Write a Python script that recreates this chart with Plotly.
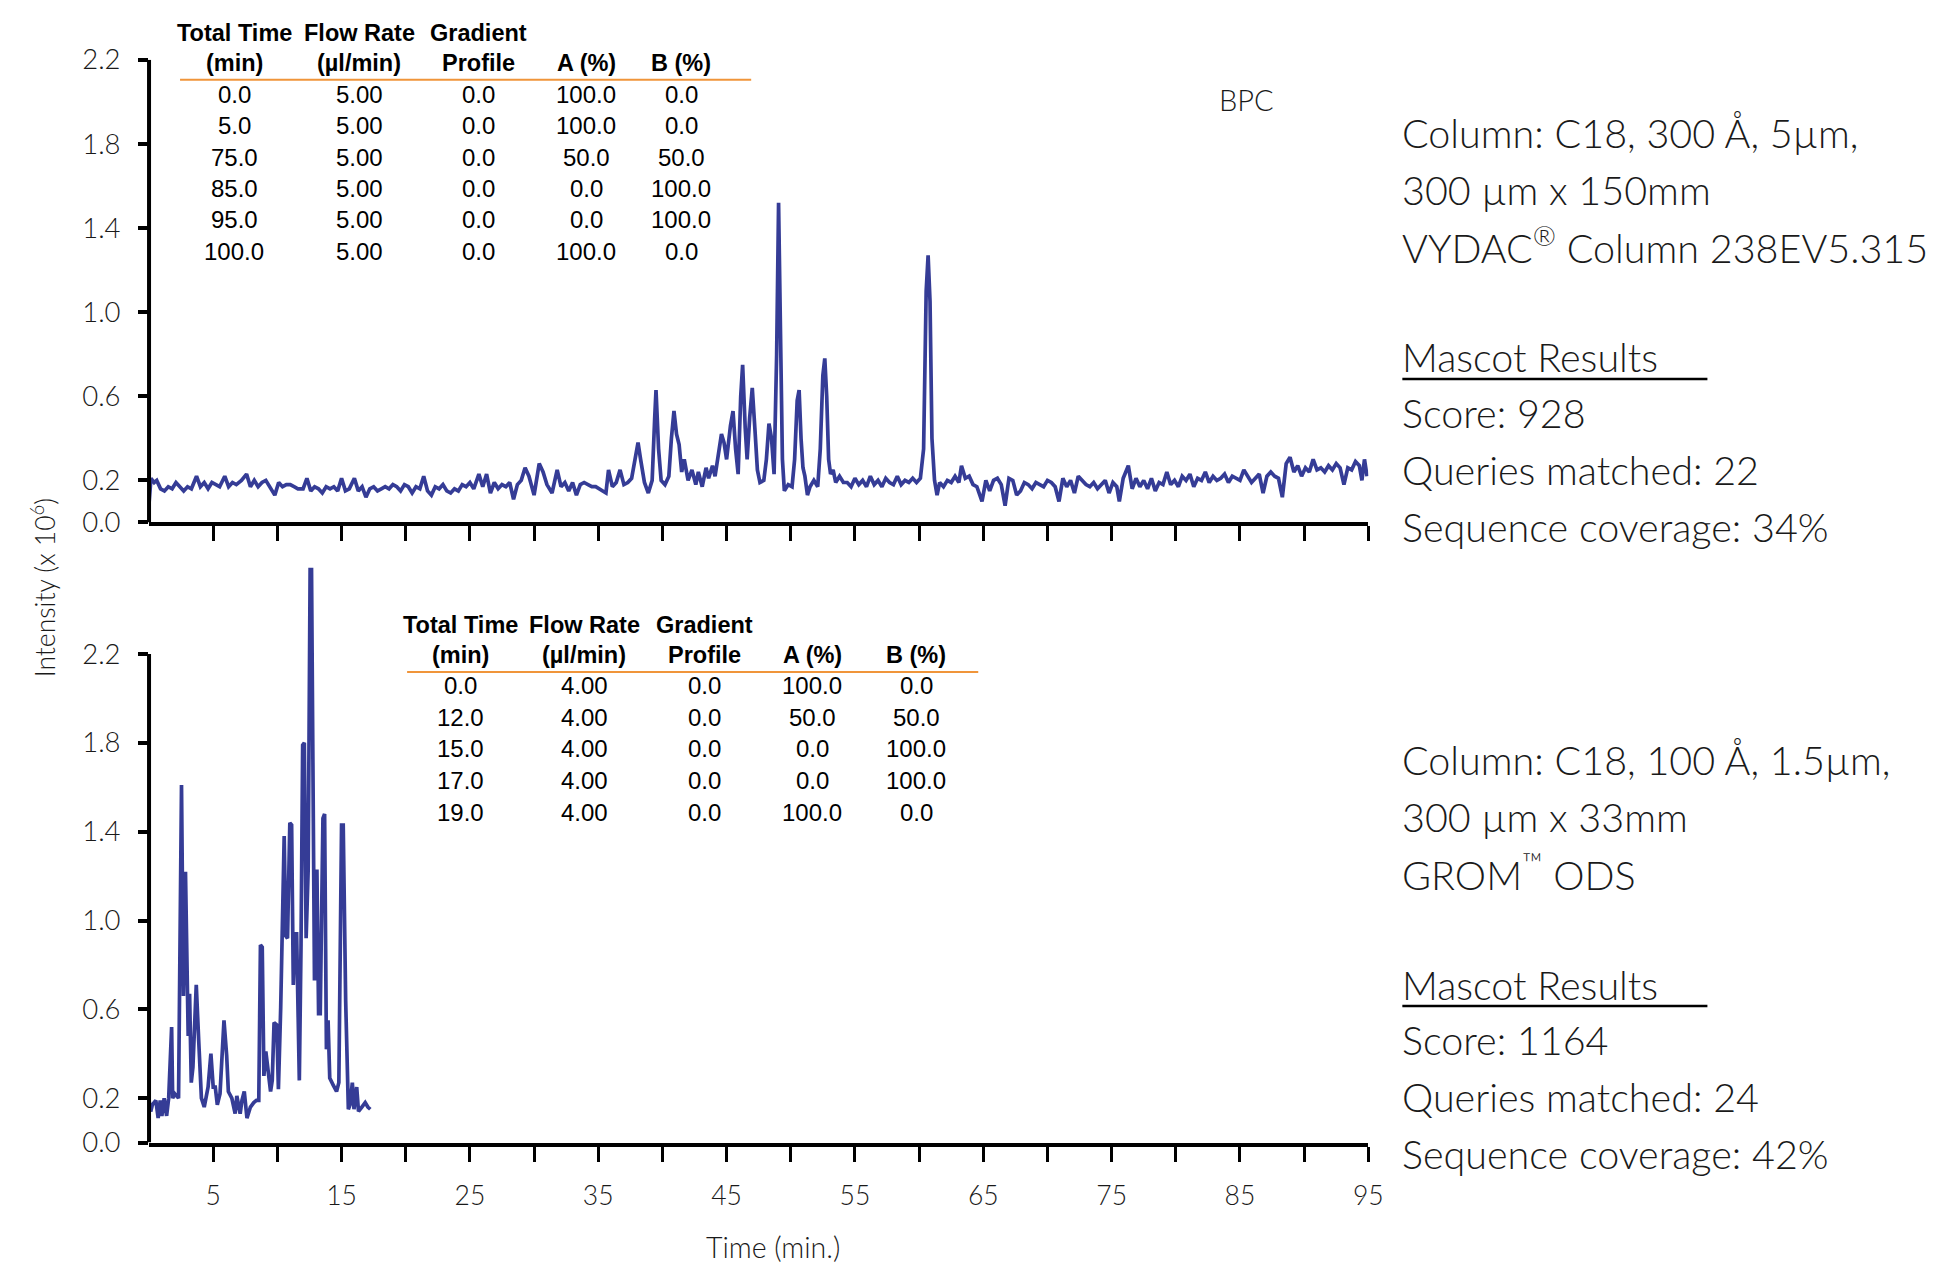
import plotly.graph_objects as go

# ---------------- data ----------------
top_time = [
    0.0, 0.15, 0.4, 0.6, 0.9, 1.2, 1.5, 1.8, 2.1, 2.4,
    2.7, 3.0, 3.3, 3.7, 4.0, 4.3, 4.6, 4.9, 5.2, 5.5,
    5.9, 6.2, 6.5, 6.8, 7.2, 7.6, 7.9, 8.2, 8.5, 8.8,
    9.1, 9.4, 9.8, 10.1, 10.4, 10.7, 11.0, 11.3, 11.6, 12.0,
    12.3, 12.6, 12.9, 13.2, 13.5, 13.8, 14.1, 14.4, 14.7, 15.0,
    15.3, 15.6, 16.0, 16.3, 16.6, 16.9, 17.2, 17.5, 17.8, 18.1,
    18.4, 18.7, 19.0, 19.3, 19.6, 19.9, 20.2, 20.5, 20.8, 21.1,
    21.4, 21.7, 22.0, 22.3, 22.6, 22.9, 23.2, 23.5, 23.8, 24.1,
    24.4, 24.7, 25.0, 25.3, 25.7, 26.0, 26.3, 26.6, 26.9, 27.2,
    27.5, 27.8, 28.1, 28.4, 28.7, 29.0, 29.3, 29.6, 30.0, 30.4,
    30.7, 31.0, 31.4, 31.8, 32.1, 32.4, 32.7, 33.0, 33.3, 33.6,
    33.9, 34.2, 34.5, 34.8, 35.1, 35.4, 35.6, 35.8, 36.1, 36.4,
    36.7, 37.0, 37.3, 37.6, 37.9, 38.1, 38.3, 38.6, 38.9, 39.2,
    39.4, 39.5, 39.7, 39.9, 40.2, 40.5, 40.7, 40.9, 41.1, 41.3,
    41.5, 41.7, 42.0, 42.3, 42.6, 42.8, 43.1, 43.4, 43.6, 43.9,
    44.1, 44.4, 44.6, 44.8, 45.0, 45.3, 45.5, 45.7, 45.9, 46.1,
    46.25, 46.45, 46.6, 46.8, 47.0, 47.2, 47.4, 47.6, 47.9, 48.1,
    48.3, 48.5, 48.7, 48.9, 49.05, 49.2, 49.35, 49.5, 49.8, 50.1,
    50.3, 50.5, 50.65, 50.8, 50.95, 51.1, 51.3, 51.5, 51.8, 52.1,
    52.3, 52.5, 52.65, 52.8, 52.95, 53.1, 53.3, 53.5, 53.8, 54.1,
    54.4, 54.7, 55.0, 55.3, 55.6, 55.9, 56.2, 56.5, 56.8, 57.1,
    57.4, 57.7, 58.0, 58.3, 58.6, 58.9, 59.2, 59.5, 59.8, 60.1,
    60.35, 60.55, 60.7, 60.85, 61.0, 61.2, 61.4, 61.6, 61.9, 62.2,
    62.5, 62.8, 63.1, 63.3, 63.6, 63.9, 64.2, 64.5, 64.9, 65.2,
    65.5, 65.8, 66.1, 66.4, 66.7, 67.0, 67.3, 67.6, 67.9, 68.2,
    68.5, 68.8, 69.1, 69.4, 69.7, 70.0, 70.3, 70.6, 70.9, 71.2,
    71.5, 71.8, 72.1, 72.4, 72.7, 73.0, 73.3, 73.6, 73.9, 74.2,
    74.5, 74.8, 75.1, 75.4, 75.6, 75.9, 76.3, 76.6, 76.9, 77.2,
    77.5, 77.8, 78.1, 78.4, 78.7, 79.0, 79.3, 79.6, 79.9, 80.2,
    80.5, 80.8, 81.1, 81.4, 81.7, 82.0, 82.3, 82.6, 82.9, 83.2,
    83.5, 83.8, 84.1, 84.4, 84.7, 85.0, 85.3, 85.6, 85.9, 86.2,
    86.5, 86.8, 87.1, 87.4, 87.7, 88.0, 88.3, 88.6, 88.9, 89.2,
    89.5, 89.8, 90.1, 90.4, 90.7, 91.0, 91.3, 91.6, 91.9, 92.2,
    92.5, 92.8, 93.1, 93.4, 93.7, 94.0, 94.3, 94.5, 94.7, 94.9,
]
top_intensity = [
    0.09, 0.21, 0.19, 0.20, 0.16, 0.15, 0.17, 0.16, 0.19, 0.17,
    0.15, 0.17, 0.16, 0.22, 0.17, 0.19, 0.16, 0.19, 0.18, 0.17,
    0.22, 0.17, 0.19, 0.18, 0.20, 0.23, 0.17, 0.20, 0.17, 0.19,
    0.20, 0.17, 0.13, 0.19, 0.17, 0.18, 0.18, 0.17, 0.16, 0.16,
    0.21, 0.15, 0.17, 0.16, 0.14, 0.17, 0.16, 0.17, 0.15, 0.21,
    0.15, 0.16, 0.21, 0.15, 0.17, 0.12, 0.16, 0.17, 0.15, 0.16,
    0.17, 0.16, 0.18, 0.17, 0.15, 0.18, 0.17, 0.14, 0.17, 0.16,
    0.22, 0.15, 0.13, 0.17, 0.16, 0.18, 0.15, 0.14, 0.16, 0.15,
    0.18, 0.17, 0.19, 0.16, 0.23, 0.17, 0.23, 0.14, 0.19, 0.16,
    0.18, 0.17, 0.19, 0.11, 0.18, 0.20, 0.26, 0.22, 0.13, 0.28,
    0.24, 0.18, 0.14, 0.25, 0.17, 0.19, 0.15, 0.19, 0.13, 0.18,
    0.19, 0.18, 0.17, 0.17, 0.16, 0.15, 0.14, 0.25, 0.17, 0.19,
    0.25, 0.18, 0.19, 0.21, 0.30, 0.38, 0.30, 0.19, 0.14, 0.20,
    0.50, 0.63, 0.35, 0.20, 0.18, 0.22, 0.40, 0.53, 0.42, 0.37,
    0.24, 0.30, 0.20, 0.25, 0.18, 0.24, 0.17, 0.26, 0.21, 0.27,
    0.22, 0.36, 0.42, 0.38, 0.30, 0.46, 0.53, 0.35, 0.23, 0.60,
    0.75, 0.45, 0.30, 0.50, 0.64, 0.45, 0.25, 0.19, 0.20, 0.30,
    0.47, 0.40, 0.23, 0.80, 1.52, 0.90, 0.30, 0.15, 0.18, 0.17,
    0.30, 0.58, 0.63, 0.40, 0.26, 0.22, 0.13, 0.17, 0.20, 0.17,
    0.35, 0.70, 0.78, 0.60, 0.30, 0.23, 0.25, 0.19, 0.22, 0.19,
    0.19, 0.17, 0.21, 0.18, 0.20, 0.17, 0.22, 0.18, 0.20, 0.17,
    0.21, 0.19, 0.18, 0.22, 0.18, 0.20, 0.19, 0.21, 0.19, 0.21,
    0.35, 1.10, 1.27, 1.05, 0.40, 0.20, 0.13, 0.19, 0.17, 0.20,
    0.19, 0.22, 0.19, 0.27, 0.21, 0.22, 0.18, 0.17, 0.10, 0.20,
    0.15, 0.20, 0.21, 0.18, 0.08, 0.21, 0.20, 0.13, 0.15, 0.19,
    0.18, 0.16, 0.19, 0.18, 0.17, 0.20, 0.19, 0.17, 0.10, 0.21,
    0.17, 0.20, 0.14, 0.22, 0.20, 0.18, 0.17, 0.19, 0.16, 0.18,
    0.20, 0.14, 0.19, 0.17, 0.10, 0.21, 0.27, 0.16, 0.21, 0.17,
    0.20, 0.16, 0.21, 0.15, 0.19, 0.18, 0.24, 0.18, 0.20, 0.17,
    0.22, 0.20, 0.23, 0.17, 0.21, 0.20, 0.24, 0.19, 0.22, 0.20,
    0.21, 0.23, 0.19, 0.22, 0.21, 0.20, 0.25, 0.22, 0.19, 0.21,
    0.23, 0.14, 0.22, 0.24, 0.22, 0.21, 0.12, 0.28, 0.31, 0.24,
    0.27, 0.22, 0.26, 0.24, 0.30, 0.25, 0.26, 0.24, 0.27, 0.25,
    0.28, 0.26, 0.18, 0.26, 0.25, 0.29, 0.27, 0.20, 0.30, 0.22,
]

bottom_time = [
    0.0, 0.13, 0.26, 0.53, 0.71, 0.87, 1.0, 1.18, 1.37, 1.53,
    1.76, 1.84, 2.0, 2.3, 2.53, 2.68, 2.84, 2.97, 3.05, 3.16,
    3.29, 3.42, 3.68, 3.87, 3.95, 4.08, 4.3, 4.6, 4.82, 5.0,
    5.16, 5.32, 5.53, 5.84, 6.05, 6.18, 6.45, 6.71, 6.84, 7.1,
    7.24, 7.42, 7.63, 7.9, 8.16, 8.37, 8.55, 8.68, 8.82, 8.95,
    9.1, 9.26, 9.47, 9.6, 9.74, 9.95, 10.08, 10.26, 10.53, 10.66,
    10.79, 10.97, 11.11, 11.24, 11.37, 11.5, 11.71, 11.84, 11.97, 12.1,
    12.24, 12.4, 12.55, 12.66, 12.89, 13.08, 13.21, 13.34, 13.55, 13.68,
    13.82, 13.95, 14.08, 14.34, 14.61, 14.79, 15.0, 15.13, 15.32, 15.53,
    15.66, 15.84, 15.97, 16.18, 16.32, 16.58, 16.84, 17.05, 17.24,
]
bottom_intensity = [
    0.19, 0.14, 0.17, 0.19, 0.11, 0.19, 0.12, 0.20, 0.12, 0.20,
    0.52, 0.20, 0.22, 0.20, 1.61, 0.66, 1.22, 0.68, 0.48, 0.67,
    0.27, 0.34, 0.71, 0.46, 0.37, 0.20, 0.16, 0.25, 0.40, 0.25,
    0.25, 0.17, 0.22, 0.55, 0.39, 0.23, 0.20, 0.13, 0.21, 0.13,
    0.19, 0.23, 0.11, 0.16, 0.18, 0.19, 0.19, 0.89, 0.88, 0.30,
    0.41, 0.32, 0.23, 0.28, 0.54, 0.53, 0.24, 0.61, 1.38, 0.93,
    0.92, 1.44, 1.43, 0.71, 0.94, 0.94, 0.28, 0.88, 1.79, 1.80,
    0.92, 1.23, 2.58, 2.58, 0.73, 1.23, 0.58, 0.58, 1.46, 1.48,
    0.42, 0.55, 0.29, 0.26, 0.23, 0.27, 1.43, 1.43, 0.64, 0.15,
    0.17, 0.27, 0.15, 0.25, 0.14, 0.16, 0.18, 0.16, 0.15,
]

y_ticks = [0.0, 0.2, 0.6, 1.0, 1.4, 1.8, 2.2]
y_ticklabels = ["0.0", "0.2", "0.6", "1.0", "1.4", "1.8", "2.2"]
x_ticks = [5, 10, 15, 20, 25, 30, 35, 40, 45, 50, 55, 60, 65, 70, 75, 80, 85, 90, 95]
x_ticklabels = ["5", "", "15", "", "25", "", "35", "", "45", "", "55", "", "65", "", "75", "", "85", "", "95"]

table_header1 = ["Total Time", "Flow Rate", "Gradient", "", ""]
table_header2 = ["(min)", "(µl/min)", "Profile", "A (%)", "B (%)"]
top_table_rows = [
    ["0.0", "5.00", "0.0", "100.0", "0.0"],
    ["5.0", "5.00", "0.0", "100.0", "0.0"],
    ["75.0", "5.00", "0.0", "50.0", "50.0"],
    ["85.0", "5.00", "0.0", "0.0", "100.0"],
    ["95.0", "5.00", "0.0", "0.0", "100.0"],
    ["100.0", "5.00", "0.0", "100.0", "0.0"],
]
bottom_table_rows = [
    ["0.0", "4.00", "0.0", "100.0", "0.0"],
    ["12.0", "4.00", "0.0", "50.0", "50.0"],
    ["15.0", "4.00", "0.0", "0.0", "100.0"],
    ["17.0", "4.00", "0.0", "0.0", "100.0"],
    ["19.0", "4.00", "0.0", "100.0", "0.0"],
]

top_info = ["Column: C18, 300 Å, 5µm,", "300 µm x 150mm", "VYDAC<sup>®</sup> Column 238EV5.315"]
top_results = ["Score: 928", "Queries matched: 22", "Sequence coverage: 34%"]
bottom_info = ["Column: C18, 100 Å, 1.5µm,", "300 µm x 33mm", "GROM<sup>™</sup> ODS"]
bottom_results = ["Score: 1164", "Queries matched: 24", "Sequence coverage: 42%"]

# ---------------- layout helpers ----------------
W, H = 1933, 1270
LINE_COLOR = "#353c96"
LIGHT = "Lato, 'Open Sans', sans-serif"
TABLE_FONT = "'Liberation Sans', Arial, sans-serif"
TEXT_COLOR = "#1a1a1a"

# target page positions are given in picture pixels; the photographed page
# comes out slightly scaled, so convert picture pixels to layout pixels
SX, SY, OY = 0.992, 0.977, 16.0


def lx(x):
    return x / SX


def ly(y):
    return (y - OY) / SY


def px(x):
    return lx(x) / W


def py(y):
    return 1 - ly(y) / H


fig = go.Figure()
fig.add_trace(go.Scatter(x=top_time, y=top_intensity, mode="lines",
                         line=dict(color=LINE_COLOR, width=3.7), xaxis="x", yaxis="y",
                         showlegend=False, hoverinfo="skip"))
fig.add_trace(go.Scatter(x=bottom_time, y=bottom_intensity, mode="lines",
                         line=dict(color=LINE_COLOR, width=3.7), xaxis="x2", yaxis="y2",
                         showlegend=False, hoverinfo="skip"))

# top chart: 0 at 523 px, 2.2 at 59 px ; bottom chart: 0 at 1145 px, 2.2 at 655 px
bot_zero, bot_top22 = 1145.0, 655.0
bot_top = bot_zero - 2.65 * (bot_zero - bot_top22) / 2.2
x_dom = [px(149), px(1368)]
top_dom = [py(523), py(59)]
bot_dom = [py(bot_zero), py(bot_top)]

common_x = dict(range=[0, 95], showgrid=False, zeroline=False, showline=True,
                linecolor="black", linewidth=4, ticks="outside", ticklen=15,
                tickwidth=3, tickcolor="black", tickvals=x_ticks)
common_y = dict(showgrid=False, zeroline=False, showline=False, ticks="outside",
                ticklen=10, tickwidth=3.5, tickcolor="black", tickvals=y_ticks,
                ticktext=y_ticklabels, ticklabelstandoff=12,
                tickfont=dict(family=LIGHT, size=27.5, color=TEXT_COLOR, weight=300))

fig.update_layout(
    width=W, height=H, margin=dict(l=0, r=0, t=0, b=0),
    paper_bgcolor="white", plot_bgcolor="white",
    xaxis=dict(domain=x_dom, anchor="y", showticklabels=False, **common_x),
    yaxis=dict(domain=top_dom, anchor="x", range=[0, 2.2], **common_y),
    xaxis2=dict(domain=x_dom, anchor="y2", ticktext=x_ticklabels, ticklabelstandoff=12,
                tickfont=dict(family=LIGHT, size=26.5, color=TEXT_COLOR, weight=300), **common_x),
    yaxis2=dict(domain=bot_dom, anchor="x2", range=[0, 2.65], **common_y),
)

shapes = []
# y axis lines (0 to 2.2 only)
for xr, yr in (("x domain", "y"), ("x2 domain", "y2")):
    shapes.append(dict(type="line", xref=xr, yref=yr, x0=0, x1=0, y0=0, y1=2.2,
                       line=dict(color="black", width=4)))
annotations = []


def add_text(x, y, text, size, family, color="black", xanchor="center", bold=False, weight=None):
    f = dict(family=family, size=size, color=color)
    if weight is not None:
        f["weight"] = weight
    annotations.append(dict(xref="paper", yref="paper", x=px(x), y=py(y),
                            text=("<b>%s</b>" % text) if bold else text,
                            showarrow=False, xanchor=xanchor, yanchor="middle", font=f))


def add_table(col_x, y_h1, y_h2, y_line, x_line0, x_line1, row_y, rows):
    for cx, h1, h2 in zip(col_x, table_header1, table_header2):
        if h1:
            add_text(cx, y_h1, h1, 23.5, TABLE_FONT, bold=True)
        add_text(cx, y_h2, h2, 23.5, TABLE_FONT, bold=True)
    shapes.append(dict(type="line", xref="paper", yref="paper", x0=px(x_line0), x1=px(x_line1),
                       y0=py(y_line), y1=py(y_line), line=dict(color="#f0953a", width=2)))
    for ry, row in zip(row_y, rows):
        for cx, cell in zip(col_x, row):
            add_text(cx, ry, cell, 24, TABLE_FONT)


add_table([234, 359, 478, 586, 681], 32, 62, 79, 180, 751,
          [94, 125, 157, 188, 219, 251], top_table_rows)
add_table([460, 584, 704, 812, 916], 626, 656, 673, 407, 978,
          [687, 719, 750, 782, 814], bottom_table_rows)


def add_info(info, results, y0):
    lines_y = [y0, y0 + 57, y0 + 113]
    for yy, t in zip(lines_y, info):
        add_text(1400, yy, t, 39.5, LIGHT, color=TEXT_COLOR, xanchor="left", weight=300)
    add_text(1400, y0 + 225, "Mascot Results", 39.5, LIGHT, color=TEXT_COLOR, xanchor="left", weight=300)
    shapes.append(dict(type="line", xref="paper", yref="paper", x0=px(1402), x1=px(1707),
                       y0=py(y0 + 247), y1=py(y0 + 247), line=dict(color="black", width=2.5)))
    for i, t in enumerate(results):
        add_text(1400, y0 + 281 + 57 * i, t, 39.5, LIGHT, color=TEXT_COLOR, xanchor="left", weight=300)


add_info(top_info, top_results, 132)
add_info(bottom_info, bottom_results, 761)

add_text(1246, 99, "BPC", 29, LIGHT, color=TEXT_COLOR, weight=300)
add_text(773, 1250, "Time (min.)", 28.5, LIGHT, color=TEXT_COLOR, weight=300)
annotations.append(dict(xref="paper", yref="paper", x=px(43), y=py(589), text="Intensity (x 10<sup>6</sup>)",
                        showarrow=False, textangle=-90, xanchor="center", yanchor="middle",
                        font=dict(family=LIGHT, size=26.5, color=TEXT_COLOR, weight=300)))

fig.update_layout(shapes=shapes, annotations=annotations)
fig.write_html("out.html")
